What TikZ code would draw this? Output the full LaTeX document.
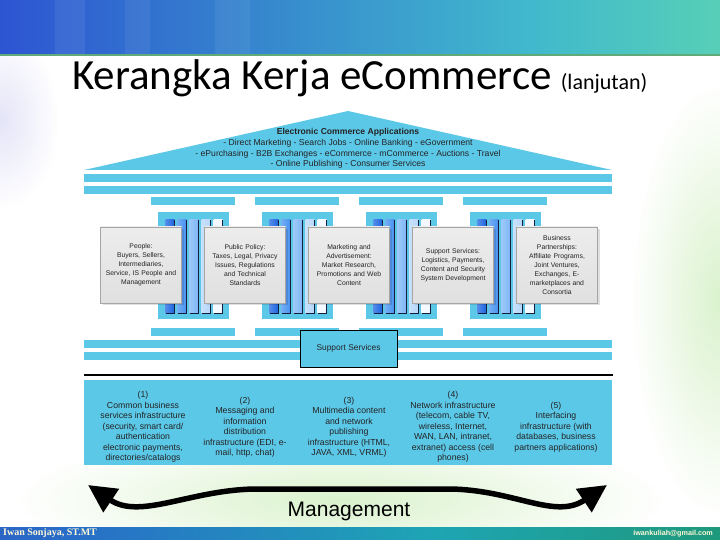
\documentclass[tikz,border=0pt]{standalone}
\usepackage{fontspec}
\setmainfont{Liberation Sans}
\newfontfamily\titlefont{Carlito}
\newfontfamily\serifbold{Liberation Serif}
\usetikzlibrary{arrows.meta}
\definecolor{cy}{RGB}{92,200,232}
\definecolor{s1}{RGB}{28,100,225}
\definecolor{s2}{RGB}{70,145,240}
\definecolor{s3}{RGB}{125,182,246}
\definecolor{s4}{RGB}{182,214,249}
\definecolor{s5}{RGB}{242,248,255}
\definecolor{edgec}{RGB}{20,30,60}
\definecolor{boxfill}{RGB}{224,224,224}
\definecolor{boxline}{RGB}{165,165,165}
\definecolor{txt}{RGB}{35,35,35}
\definecolor{cream}{RGB}{255,248,215}
\definecolor{hA}{RGB}{72,60,215}
\definecolor{hB}{RGB}{45,85,210}
\definecolor{hC}{RGB}{55,140,205}
\definecolor{hD}{RGB}{65,185,205}
\definecolor{hE}{RGB}{95,215,175}
\definecolor{hF}{RGB}{130,228,165}
\definecolor{fA}{RGB}{62,60,190}
\definecolor{fB}{RGB}{40,110,200}
\definecolor{fC}{RGB}{30,165,180}
\definecolor{fD}{RGB}{30,150,110}
\definecolor{fE}{RGB}{40,140,80}
\definecolor{glow}{RGB}{218,242,205}
\definecolor{lav}{RGB}{228,228,248}
\pgfdeclarehorizontalshading{hdrshade}{100bp}{color(0bp)=(hA); color(25bp)=(hB); color(45bp)=(hC); color(62bp)=(hD); color(80bp)=(hE); color(100bp)=(hF)}
\pgfdeclarehorizontalshading{ftrshade}{100bp}{color(0bp)=(fA); color(30bp)=(fB); color(55bp)=(fC); color(80bp)=(fD); color(100bp)=(fE)}
\begin{document}
\begin{tikzpicture}[x=1pt,y=-1pt,
  bar/.style={fill=cy, inner sep=0pt, minimum width=528pt, minimum height=8pt},
  capbar/.style={fill=cy, inner sep=0pt, minimum width=84pt, minimum height=8pt},
  colback/.style={fill=cy, inner sep=0pt, minimum width=71pt, minimum height=107pt},
  pbox/.style={top color=boxfill!60!white, bottom color=boxfill, draw=boxline, line width=0.4pt, inner sep=0.5pt,
    minimum width=81pt, minimum height=76pt, text width=80pt, align=center,
    font=\fontsize{6.8}{9}\selectfont, text=txt},
  itext/.style={align=center, font=\fontsize{8.7}{10.5}\selectfont, text=txt, inner sep=0pt},
  rtext/.style={align=center, font=\fontsize{8.6}{10.6}\selectfont, text=txt, inner sep=0pt},
  bigarrow/.style={line width=5.5pt, {Triangle[length=28pt,width=27pt]}-{Triangle[length=28pt,width=27pt]}}
]
\useasboundingbox (0,0) rectangle (720,540);
\fill[white] (0,0) rectangle (720,540);
% background glows
\shade[inner color=glow, outer color=white] (340,500) ellipse (330 and 70);
\shade[inner color=glow, outer color=white] (720,300) ellipse (90 and 220);
\shade[inner color=lav, outer color=white] (0,120) ellipse (60 and 90);
% header
\shade[shading=hdrshade] (0,0) rectangle (720,55);
\fill[white, opacity=0.07] (55,0) rectangle (85,55);
\fill[white, opacity=0.06] (125,0) rectangle (150,55);
\fill[white, opacity=0.06] (215,0) rectangle (250,55);
\draw[line width=1.2pt, color={rgb,255:red,95;green,170;blue,120}] (0,55) -- (720,55);
\node[font=\titlefont\fontsize{43}{48}\selectfont, anchor=base west, inner sep=0pt] (title) at (72,90) {Kerangka Kerja eCommerce};
\node[font=\titlefont\fontsize{22}{24}\selectfont, anchor=base west, inner sep=0pt] (sub) at ([xshift=9pt]title.base east) {(lanjutan)};
% footer
\shade[shading=ftrshade] (0,527) rectangle (720,540);
\node[anchor=west, font=\serifbold\bfseries\fontsize{10}{11}\selectfont, text=cream, inner sep=0pt] (author) at (3,533.5) {Iwan Sonjaya, ST.MT};
\node[anchor=east, font=\bfseries\fontsize{7.2}{8}\selectfont, text=cream, inner sep=0pt] (mail) at (713,533.5) {iwankuliah@gmail.com};
% roof
\fill[cy] (84,170) -- (348,111) -- (612,170) -- cycle;
\node[rtext] (roof) at (348,148.5) {\textbf{Electronic Commerce Applications}\\
- Direct Marketing - Search Jobs - Online Banking - eGovernment\\
- ePurchasing - B2B Exchanges - eCommerce - mCommerce - Auctions - Travel\\
- Online Publishing - Consumer Services};
\node[bar] (bar1) at (348,178) {};
\node[bar] (bar2) at (348,190) {};
% pillars
\foreach \cx [count=\i] in {193,297,401,505}{
  \node[capbar] (cap\i) at (\cx,201) {};
  \node[colback] (col\i) at (\cx,265.5) {};
  \foreach \dx/\c in {-27.5/s1,-15.5/s2,-3.5/s3,8.5/s4,20.5/s5}{
    \shade[left color=\c!75!white, right color=\c] (\cx+\dx,220) rectangle (\cx+\dx+9,313);
    \draw[edgec, line width=1.2pt] (\cx+\dx+9,220) -- (\cx+\dx+9,313.6);
    \draw[edgec, line width=0.8pt] (\cx+\dx,313) -- (\cx+\dx+9,313);
  }
  \node[capbar] (base\i) at (\cx,331.5) {};
}
% boxes (with soft shadow)
\foreach \bx in {141,245,349,453,557}{
  \fill[black, opacity=0.12] (\bx-38.5,229) rectangle (\bx+42.5,305);
}
\node[pbox] (b1) at (141,265) {People:\\Buyers, Sellers,\\Intermediaries,\\Service, IS People and\\Management};
\node[pbox] (b2) at (245,265) {Public Policy:\\Taxes, Legal, Privacy\\Issues, Regulations\\and Technical\\Standards};
\node[pbox] (b3) at (349,265) {Marketing and\\Advertisement:\\Market Research,\\Promotions and Web\\Content};
\node[pbox] (b4) at (453,265) {Support Services:\\Logistics, Payments,\\Content and Security\\System Development};
\node[pbox] (b5) at (557,265) {Business\\Partnerships:\\Affiliate Programs,\\Joint Ventures,\\Exchanges, E-\\marketplaces and\\Consortia};
% lower bars
\node[bar] (bar3) at (348,344) {};
\node[bar] (bar4) at (348,356) {};
\node[fill=cy, draw=black, line width=0.8pt, minimum width=97pt, minimum height=37pt, inner sep=0pt,
  font=\fontsize{8.4}{9}\selectfont, text=txt] (ss) at (348.5,348.5) {Support Services};
\coordinate (l1) at (84,375);
\coordinate (l2) at (613,375);
\draw[line width=1.1pt] (l1) -- (l2);
% infrastructure
\node[fill=cy, inner sep=0pt, minimum width=528pt, minimum height=85pt] (infra) at (348,422.5) {};
\node[itext] (i1) at (143,427) {(1)\\Common business\\services infrastructure\\(security, smart card/\\authentication\\electronic payments,\\directories/catalogs};
\node[itext] (i2) at (245,427) {(2)\\Messaging and\\information\\distribution\\infrastructure (EDI, e-\\mail, http, chat)};
\node[itext] (i3) at (349,427) {(3)\\Multimedia content\\and network\\publishing\\infrastructure (HTML,\\JAVA, XML, VRML)};
\node[itext] (i4) at (453,427) {(4)\\Network infrastructure\\(telecom, cable TV,\\wireless, Internet,\\WAN, LAN, intranet,\\extranet) access (cell\\phones)};
\node[itext] (i5) at (556,427) {(5)\\Interfacing\\infrastructure (with\\databases, business\\partners applications)};
% management arrow
\coordinate (mL) at (88,485);
\coordinate (mR) at (607,485);
\draw[bigarrow] (mL) .. controls (140,520) and (190,490) .. (255,489) -- (450,489) .. controls (515,490) and (555,520) .. (mR);
\node[font=\fontsize{21}{24}\selectfont, anchor=base, inner sep=0pt] (mg) at (349,516) {Management};
\end{tikzpicture}
\end{document}
